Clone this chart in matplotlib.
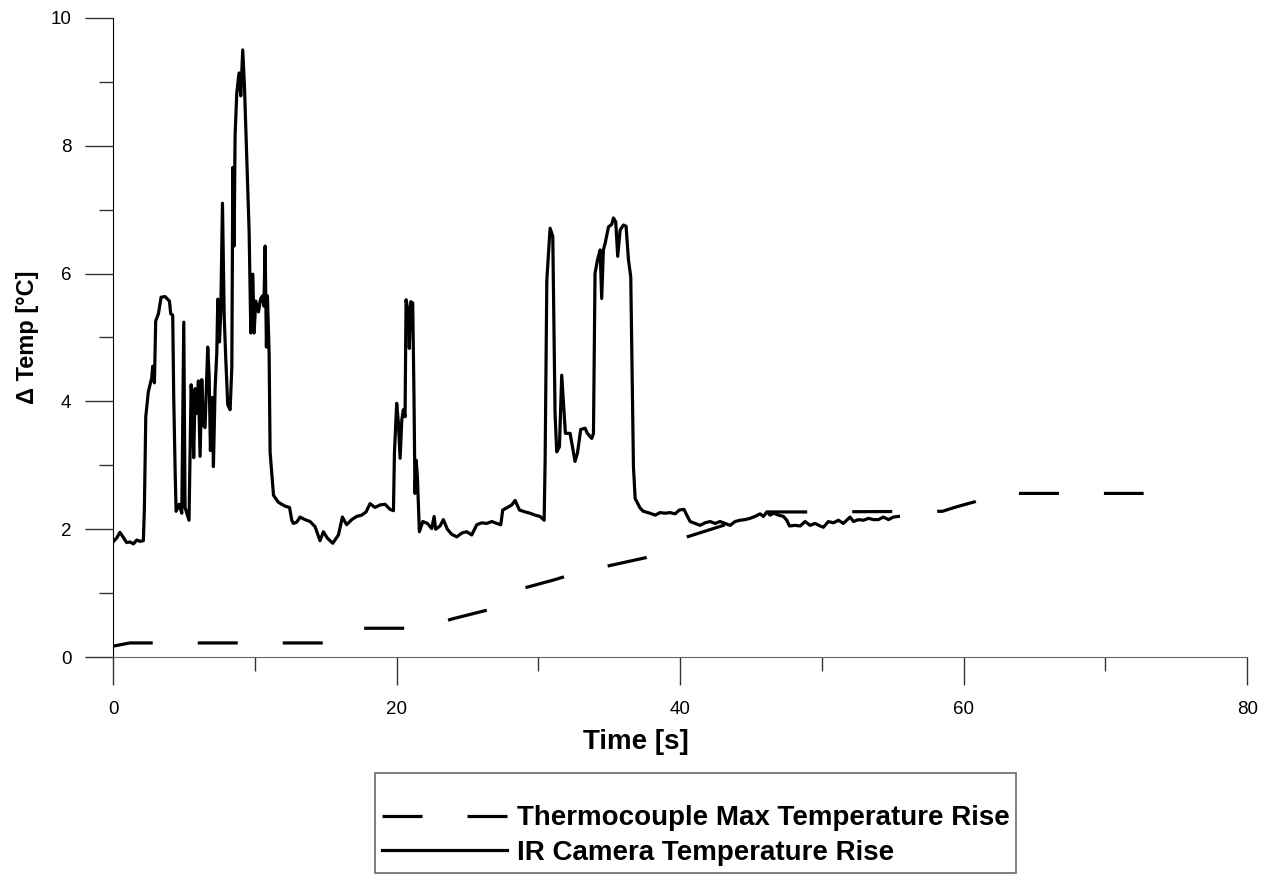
import numpy as np
import matplotlib
matplotlib.use('Agg')
import matplotlib.pyplot as plt
from matplotlib.ticker import MultipleLocator

plt.rcParams['font.family'] = ['Liberation Sans', 'DejaVu Sans']
plt.rcParams['lines.scale_dashes'] = False

# IR camera trace [s, degC]
ir_time = [0.0, 0.25, 0.49, 0.73, 0.96, 1.2, 1.44, 1.67, 1.91, 2.14,
           2.21, 2.31, 2.49, 2.73, 2.8, 2.92, 3.01, 3.2, 3.39, 3.67, 3.98, 4.07, 4.21, 4.28, 4.38, 4.45,
           4.66, 4.85, 4.99, 5.08, 5.36, 5.51, 5.6, 5.69, 5.79, 5.93, 6.02, 6.14, 6.26, 6.38, 6.49,
           6.68, 6.78, 6.87, 7.01, 7.08, 7.2, 7.32, 7.39, 7.51, 7.6, 7.72, 7.84, 7.95, 8.09, 8.26,
           8.38, 8.45, 8.54, 8.61, 8.73, 8.89, 9.01, 9.15, 9.27, 9.44, 9.6, 9.72, 9.86, 9.95, 10.07,
           10.26, 10.4, 10.54, 10.64, 10.73, 10.82, 10.89, 11.01, 11.08, 11.32, 11.67, 12.14, 12.45,
           12.61, 12.72, 12.96, 13.19, 13.54, 13.9, 14.25, 14.6, 14.84, 15.12, 15.5, 15.9, 16.18,
           16.48, 16.84, 17.19, 17.54, 17.85, 18.13, 18.48, 18.84, 19.19, 19.54, 19.78, 19.85, 20.01,
           20.13, 20.25, 20.37, 20.48, 20.6, 20.67, 20.84, 20.9, 21.0, 21.14, 21.23, 21.3, 21.38,
           21.47, 21.61, 21.85, 22.18, 22.48, 22.65, 22.76, 23.07, 23.3, 23.58, 23.89, 24.25, 24.6,
           24.95, 25.3, 25.66, 26.01, 26.36, 26.72, 27.07, 27.35, 27.49, 27.82, 28.13, 28.36, 28.67,
           29.07, 29.42, 29.77, 30.12, 30.41, 30.48, 30.6, 30.83, 31.02, 31.18, 31.3, 31.49, 31.65,
           31.82, 31.91, 32.24, 32.41, 32.59, 32.76, 32.99, 33.3, 33.46, 33.77, 33.89, 34.0, 34.17,
           34.36, 34.47, 34.59, 34.71, 34.95, 35.18, 35.3, 35.46, 35.6, 35.77, 36.0, 36.19, 36.36,
           36.52, 36.59, 36.71, 36.83, 37.18, 37.41, 37.88, 38.24, 38.59, 38.94, 39.29, 39.65, 39.95,
           40.28, 40.47, 40.71, 41.06, 41.41, 41.76, 42.12, 42.47, 42.82, 43.17, 43.53, 43.88, 44.23,
           44.59, 44.94, 45.29, 45.64, 45.88, 46.12, 46.35, 46.59, 46.94, 47.29, 47.53, 47.72, 48.11,
           48.47, 48.82, 49.17, 49.52, 49.88, 50.11, 50.46, 50.82, 51.17, 51.52, 51.76, 51.99, 52.23,
           52.58, 52.93, 53.29, 53.64, 53.99, 54.34, 54.7, 55.05, 55.4]
ir_temp = [1.80, 1.86, 1.95, 1.87, 1.79, 1.80, 1.77, 1.83, 1.81, 1.82,
           2.31, 3.76, 4.15, 4.37, 4.55, 4.29, 5.26, 5.37, 5.63, 5.64, 5.57, 5.37, 5.35, 4.09, 2.92, 2.28,
           2.39, 2.25, 5.24, 2.34, 2.14, 4.26, 3.98, 3.12, 4.2, 3.81, 4.32, 3.14, 4.34, 3.62, 3.59,
           4.85, 4.4, 3.23, 4.06, 2.98, 4.2, 4.76, 5.6, 4.93, 5.4, 7.1, 5.35, 4.68, 3.95, 3.87,
           4.54, 7.66, 6.43, 8.16, 8.83, 9.14, 8.78, 9.5, 8.94, 7.77, 6.66, 5.07, 5.99, 5.07, 5.57,
           5.4, 5.6, 5.65, 5.49, 6.43, 4.85, 5.65, 4.76, 3.2, 2.53, 2.42, 2.36, 2.34,
           2.14, 2.09, 2.11, 2.19, 2.15, 2.12, 2.04, 1.82, 1.96, 1.86, 1.78, 1.91, 2.19,
           2.07, 2.15, 2.2, 2.22, 2.27, 2.4, 2.34, 2.38, 2.39, 2.31, 2.29, 3.19, 3.97,
           3.66, 3.11, 3.71, 3.87, 3.76, 5.59, 5.38, 4.83, 5.56, 5.54, 4.07, 2.56, 3.08,
           2.82, 1.96, 2.12, 2.09, 2.01, 2.2, 2.0, 2.05, 2.15, 2.0, 1.92, 1.88, 1.94,
           1.96, 1.91, 2.07, 2.1, 2.09, 2.12, 2.09, 2.07, 2.3, 2.34, 2.38, 2.45, 2.3,
           2.27, 2.25, 2.22, 2.2, 2.14, 3.08, 5.9, 6.71, 6.58, 3.81, 3.21, 3.29, 4.41,
           3.81, 3.5, 3.5, 3.29, 3.06, 3.19, 3.56, 3.58, 3.5, 3.42, 3.5, 6.0, 6.21,
           6.37, 5.61, 6.37, 6.47, 6.73, 6.77, 6.87, 6.81, 6.27, 6.68, 6.76, 6.74, 6.21,
           5.95, 4.86, 2.98, 2.48, 2.33, 2.28, 2.25, 2.22, 2.26, 2.25, 2.26, 2.24, 2.3,
           2.31, 2.22, 2.12, 2.09, 2.06, 2.1, 2.12, 2.09, 2.12, 2.09, 2.06, 2.12, 2.14,
           2.15, 2.17, 2.2, 2.24, 2.2, 2.27, 2.22, 2.25, 2.22, 2.2, 2.14, 2.05, 2.06,
           2.05, 2.12, 2.06, 2.09, 2.05, 2.03, 2.12, 2.1, 2.14, 2.09, 2.14, 2.19, 2.12,
           2.15, 2.14, 2.17, 2.15, 2.15, 2.19, 2.15, 2.19, 2.2]

# thermocouple maximum [s, degC]
tc_time = [0.0, 1.2, 15.5, 17.5, 21.5, 22.5, 24.0, 26.5, 27.5, 29.0, 31.0, 32.5, 34.0, 37.7,
           38.5, 40.5, 43.2, 44.5, 45.5, 49.0, 58.5, 59.5, 60.8, 62.0, 72.7]
tc_temp = [0.17, 0.22, 0.22, 0.45, 0.45, 0.5, 0.6, 0.74, 0.85, 1.08, 1.2, 1.3, 1.38, 1.56,
           1.65, 1.88, 2.07, 2.15, 2.27, 2.27, 2.28, 2.35, 2.43, 2.56, 2.56]

fig = plt.figure(figsize=(12.7, 8.76), dpi=100)
ax = fig.add_axes([0.089, 0.25, 0.893, 0.7295])

tc, = ax.plot(tc_time, tc_temp, color='k', lw=2.3, dashes=(28.8, 32.4),
              label='Thermocouple Max Temperature Rise')
ir, = ax.plot(ir_time, ir_temp, color='k', lw=2.3, label='IR Camera Temperature Rise')

ax.set_xlim(0, 80)
ax.set_ylim(0, 10)
ax.xaxis.set_major_locator(MultipleLocator(20))
ax.xaxis.set_minor_locator(MultipleLocator(10))
ax.yaxis.set_major_locator(MultipleLocator(2))
ax.yaxis.set_minor_locator(MultipleLocator(1))

for s in ['top', 'right']:
    ax.spines[s].set_visible(False)
ax.spines['left'].set_color('k')
ax.spines['bottom'].set_color('#666666')
ax.tick_params(which='major', direction='out', length=20, width=1, color='#333333', labelsize=13.5)
ax.tick_params(which='minor', direction='out', length=10, width=1, color='#333333')
ax.tick_params(axis='x', which='major', pad=12)
ax.tick_params(axis='y', which='major', pad=10)

ax.set_xlabel('Time [s]', fontsize=20, fontweight='bold')
ax.xaxis.set_label_coords(0.461, -0.112)
ax.set_ylabel('Δ Temp [°C]', fontsize=17, fontweight='bold', labelpad=8)

leg = fig.legend(handles=[tc, ir], loc='upper left', bbox_to_anchor=(375 / 1270, 1 - 773 / 876),
                 frameon=True, fancybox=False, prop={'weight': 'bold', 'size': 20},
                 handlelength=4.5, handletextpad=0.35, borderpad=0.25, labelspacing=0.3,
                 borderaxespad=0, title=' ', title_fontsize=13)
leg.get_frame().set_edgecolor('#444444')
leg.get_frame().set_linewidth(1.2)

fig.savefig('out.png', dpi=100)
